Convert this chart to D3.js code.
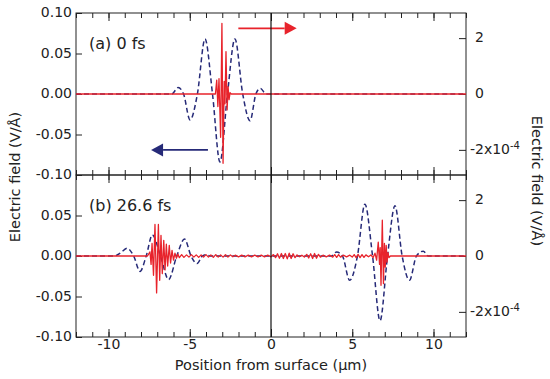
<!DOCTYPE html>
<html>
<head>
<meta charset="utf-8">
<script src="https://cdn.jsdelivr.net/npm/d3@7"></script>
<style>
body { margin: 0; background: #fff; }
svg text { font-family: "DejaVu Sans", sans-serif; fill: #222; }
</style>
</head>
<body>
<div id="chart"></div>
<script>
/* two-panel field plot */

// x ticks (position, um)
const xMinorTicks = [-12,-11,-10,-9,-8,-7,-6,-5,-4,-3,-2,-1,0,1,2,3,4,5,6,7,8,9,10,11,12];
const xMajorTicks = [-10, -5, 0, 5, 10];
const xTickLabels = ["-10", "-5", "0", "5", "10"];

// left axis (V/A)
const leftTicks = [-0.10, -0.05, 0.00, 0.05, 0.10];
const leftTickLabels = ["-0.10", "-0.05", "0.00", "0.05", "0.10"];
// right axis (x1e-4 V/A)
const rightTicks = [-2, 0, 2];

const panelLabels = ["(a) 0 fs", "(b) 26.6 fs"];

// blue dashed: [position, field V/A]  (left axis)
const blueA = [[-12,0],[-6.1,0],[-5.72,0.008],[-5.38,0],[-4.98,-0.032],[-4.53,0],[-4.06,0.068],
  [-3.6,0],[-3.14,-0.084],[-2.68,0],[-2.22,0.068],[-1.74,0],[-1.29,-0.033],[-0.93,0],
  [-0.66,0.007],[-0.3,0],[12,0]];
const blueB = [[-12,0],[-9.65,0],[-9.25,0.004],[-8.85,0.0095],[-8.45,0],[-8.06,-0.019],[-7.68,0],
  [-7.3,0.026],[-6.8,0],[-6.3,-0.029],[-5.8,0],[-5.32,0.021],[-4.92,0],[-4.55,-0.0094],
  [-4.22,0],[-3.97,0.0015],[-3.75,0],[3.7,0],[4.04,0.005],[4.4,0],[4.84,-0.030],[5.32,0],
  [5.78,0.064],[6.25,0],[6.71,-0.080],[7.17,0],[7.63,0.062],[8.07,0],[8.52,-0.030],
  [8.95,0],[9.37,0.006],[9.68,0],[12,0]];

// red: [position, field x1e-4 V/A]  (right axis)
const redA = [[-12,0],[-3.42,0],[-3.34,0.5],[-3.27,-0.45],[-3.2,0.55],[-3.1,-1.55],[-3.02,2.53],
  [-2.95,-2.48],[-2.88,0.45],[-2.83,-0.35],[-2.77,1.52],[-2.7,-0.57],[-2.64,0.26],
  [-2.58,-0.2],[-2.52,0.05],[-2.45,0],[12,0]];
const redB = [[-12,0],[-7.6,0],[-7.45,0.15],[-7.38,-0.3],[-7.32,0.45],[-7.23,-0.69],[-7.14,1.13],
  [-7.04,-1.32],[-6.93,1.13],[-6.85,-0.87],[-6.77,0.74],[-6.69,-0.63],[-6.6,0.56],[-6.52,-0.5],
  [-6.44,0.42],[-6.36,-0.36],[-6.26,0.38],[-6.18,-0.25],[-6.09,0.2],[-6.0,-0.15],[-5.91,0.1],
  [-5.82,-0.08],[-5.73,0.07],[-5.64,-0.06],[-5.5,0.05],[-5.36,-0.05],[-5.2,0.04],[-5.05,-0.04],
  [-4.9,0.05],[-4.75,-0.04],[-4.6,0.04],[-4.45,-0.05],[-4.3,0.04],[-4.15,-0.04],[-4.0,0.05],
  [-3.85,-0.04],[-3.7,0.04],[-3.55,-0.05],[-3.4,0.05],[-3.25,-0.04],[-3.1,0.04],[-2.95,-0.04],
  [-2.8,0.05],[-2.65,-0.04],[-2.5,0.04],[-2.35,-0.03],[-2.2,0.03],[-2.0,-0.03],[-1.8,0.03],
  [-1.6,-0.03],[-1.4,0.03],[-1.2,-0.03],[-1.0,0.03],[-0.8,-0.03],[-0.6,0.03],[-0.4,-0.03],
  [-0.2,0.03],[0.0,-0.03],[0.15,0.05],[0.28,-0.06],[0.4,0.08],[0.52,-0.08],[0.64,0.09],
  [0.76,-0.09],[0.88,0.09],[1.0,-0.1],[1.12,0.1],[1.24,-0.09],[1.36,0.08],[1.48,-0.06],
  [1.6,0.04],[1.75,-0.03],[1.9,0.03],[2.05,-0.04],[2.2,0.06],[2.32,-0.07],[2.44,0.08],
  [2.56,-0.09],[2.68,0.09],[2.8,-0.08],[2.92,0.06],[3.04,-0.04],[3.2,0.03],[3.4,-0.03],
  [3.6,0.03],[3.8,-0.04],[3.92,0.05],[4.04,-0.05],[4.16,0.05],[4.28,-0.04],[4.45,0.03],
  [4.65,-0.03],[4.85,0.03],[5.0,-0.04],[5.12,0.05],[5.24,-0.06],[5.36,0.06],[5.48,-0.06],
  [5.6,0.05],[5.72,-0.05],[5.84,0.04],[6.0,-0.03],[6.15,0.04],[6.28,-0.06],[6.4,0.1],
  [6.5,-0.15],[6.6,0.5],[6.68,-0.3],[6.72,0.3],[6.77,-1.05],[6.85,1.28],[6.92,-0.99],
  [6.98,0.45],[7.03,-0.4],[7.09,0.38],[7.14,-0.22],[7.2,0.12],[7.26,-0.06],[7.35,0],[12,0]];

// arrows in panel (a): [x start, x tip], y value
const redArrowX = [-2.01, 1.58], redArrowY = 2.35;     // right axis units
const blueArrowX = [-3.88, -7.38], blueArrowY = -0.069; // left axis units

const blueColor = "#262a78", redColor = "#e8232b", frameColor = "#222";

const margin = { top: 13, right: 84, bottom: 42, left: 76 },
    width = 550 - margin.left - margin.right,
    height = 379 - margin.top - margin.bottom,
    panelH = height / 2;

const svg = d3.select("#chart")
    .append("svg")
    .attr("width", 550)
    .attr("height", 379)
    .append("g")
    .attr("transform", `translate(${margin.left},${margin.top})`);

const xScale = d3.scaleLinear().domain([-12, 12]).range([0, width]);

const panels = [
    { label: panelLabels[0], blue: blueA, red: redA, leftShown: leftTicks },
    { label: panelLabels[1], blue: blueB, red: redB, leftShown: leftTicks.slice(0, 4) }
];

panels.forEach((p, i) => {
    const y0 = i * panelH;
    const yL = d3.scaleLinear().domain([-0.1, 0.1]).range([y0 + panelH, y0]);
    const yR = d3.scaleLinear().domain([-2.9, 2.9]).range([y0 + panelH, y0]);

    // left axis
    svg.append("g")
        .call(d3.axisLeft(yL).tickValues(p.leftShown).tickSize(-6).tickPadding(4)
            .tickFormat(d => leftTickLabels[leftTicks.indexOf(d)]))
        .call(g => g.select(".domain").remove())
        .call(g => g.selectAll("line").attr("stroke", frameColor))
        .call(g => g.selectAll("text").style("font-size", "14px").attr("dy", "0.26em"));

    // right axis
    svg.append("g")
        .attr("transform", `translate(${width},0)`)
        .call(d3.axisRight(yR).tickValues(rightTicks).tickSize(-7).tickPadding(9).tickFormat(""))
        .call(g => g.select(".domain").remove())
        .call(g => g.selectAll("line").attr("stroke", frameColor))
        .call(g => g.selectAll(".tick text").each(function(d) {
            const t = d3.select(this).style("font-size", "14px").attr("dy", "0.26em");
            if (d < 0) {
                t.attr("dx", "-0.36em");
                t.append("tspan").text(`${d}x10`);
                t.append("tspan").attr("dy", "-0.5em").style("font-size", "10px").text("-4");
            } else {
                t.text(d);
            }
        }));

    // x ticks on top and bottom of each panel, pointing inward
    [[d3.axisTop, y0], [d3.axisBottom, y0 + panelH]].forEach(([ax, yy]) => {
        svg.append("g")
            .attr("transform", `translate(0,${yy})`)
            .call(ax(xScale).tickValues(xMinorTicks).tickSize(-5).tickFormat(""))
            .call(g => g.select(".domain").remove())
            .call(g => g.selectAll("line").attr("stroke", frameColor));
        const major = svg.append("g")
            .attr("transform", `translate(0,${yy})`)
            .call(ax(xScale).tickValues(xMajorTicks).tickSize(-8).tickPadding(2)
                .tickFormat((d, k) => (i === 1 && ax === d3.axisBottom) ? xTickLabels[k] : ""))
            .call(g => g.select(".domain").remove())
            .call(g => g.selectAll("line").attr("stroke", frameColor))
            .call(g => g.selectAll("text").style("font-size", "14px"));
    });

    // frame
    svg.append("rect")
        .attr("x", 0).attr("y", y0)
        .attr("width", width).attr("height", panelH)
        .attr("fill", "none")
        .attr("stroke", frameColor)
        .attr("stroke-width", 1);

    // blue dashed wave (left axis)
    svg.append("path")
        .datum(p.blue)
        .attr("fill", "none")
        .attr("stroke", blueColor)
        .attr("stroke-width", 1.5)
        .attr("stroke-dasharray", "5,3")
        .attr("d", d3.line().x(d => xScale(d[0])).y(d => yL(d[1])).curve(d3.curveMonotoneX));

    // red wave (right axis)
    svg.append("path")
        .datum(p.red)
        .attr("fill", "none")
        .attr("stroke", redColor)
        .attr("stroke-width", 1.3)
        .attr("stroke-linejoin", "round")
        .attr("d", d3.line().x(d => xScale(d[0])).y(d => yR(d[1])));

    // panel label
    svg.append("text")
        .attr("x", 13)
        .attr("y", y0 + 36)
        .style("font-size", "16px")
        .text(p.label);

    if (i === 0) {
        // arrows
        const drawArrow = (xs, yv, color) => {
            const xa = xScale(xs[0]), xb = xScale(xs[1]), dir = Math.sign(xb - xa);
            const hl = 12, hh = 6.5;
            svg.append("line")
                .attr("x1", xa).attr("x2", xb - dir * hl)
                .attr("y1", yv).attr("y2", yv)
                .attr("stroke", color).attr("stroke-width", 1.6);
            svg.append("path")
                .attr("d", `M${xb},${yv}L${xb - dir * hl},${yv - hh}L${xb - dir * hl},${yv + hh}Z`)
                .attr("fill", color);
        };
        drawArrow(redArrowX, yR(redArrowY), redColor);
        drawArrow(blueArrowX, yL(blueArrowY), blueColor);
    }
});

// vertical line at surface
svg.append("line")
    .attr("x1", xScale(0)).attr("x2", xScale(0))
    .attr("y1", 0).attr("y2", height)
    .attr("stroke", "#111")
    .attr("stroke-width", 1.2);

// axis titles
svg.append("text")
    .attr("text-anchor", "middle")
    .attr("x", width / 2)
    .attr("y", height + 33)
    .style("font-size", "14.5px")
    .text("Position from surface (μm)");

svg.append("text")
    .attr("text-anchor", "middle")
    .attr("transform", `translate(${20 - margin.left},${164}) rotate(-90)`)
    .style("font-size", "14.5px")
    .text("Electric field (V/Å)");

svg.append("text")
    .attr("text-anchor", "middle")
    .attr("transform", `translate(${532 - margin.left},${168}) rotate(90)`)
    .style("font-size", "14.5px")
    .text("Electric field (V/Å)");
</script>
</body>
</html>
